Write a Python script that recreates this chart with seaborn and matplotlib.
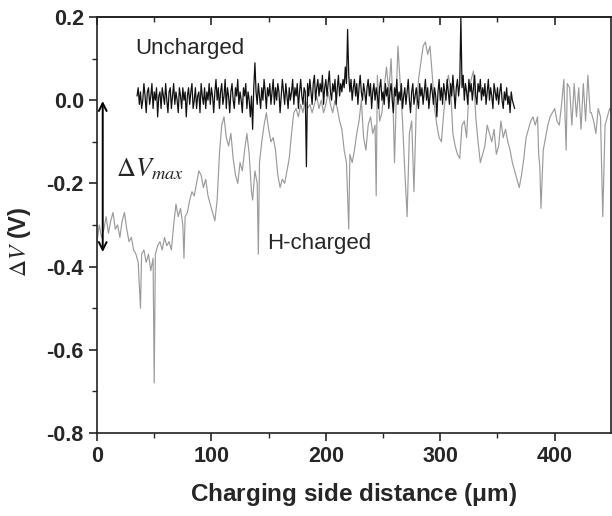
import numpy as np
import pandas as pd
import matplotlib
matplotlib.use("Agg")
import matplotlib.pyplot as plt
import seaborn as sns

# H-charged trace (grey)
x_h = [0, 2, 4, 6, 8, 10, 12, 14, 16, 18,
       20, 22, 24, 26, 28, 30, 32, 34, 36, 38,
       39, 41, 43, 45, 47, 49, 50, 51, 53, 55,
       57, 59, 61, 63, 65, 67, 69, 71, 73, 75,
       76, 77, 79, 81, 83, 85, 87, 89, 91, 93,
       95, 97, 99, 101, 103, 105, 107, 109, 111, 113,
       115, 117, 119, 121, 123, 125, 127, 129, 131, 133,
       135, 136, 138, 140, 141, 142, 144, 146, 148, 150,
       152, 154, 156, 158, 160, 162, 164, 166, 168, 170,
       172, 174, 176, 178, 180, 182, 184, 186, 188, 190,
       192, 194, 196, 198, 200, 202, 204, 206, 208, 210,
       212, 214, 216, 218, 220, 221, 223, 225, 227, 229,
       231, 233, 235, 237, 239, 241, 243, 244, 245, 247,
       249, 251, 253, 255, 257, 259, 260, 262, 263, 265,
       267, 269, 271, 273, 275, 277, 279, 281, 283, 285,
       287, 289, 291, 293, 295, 297, 299, 301, 303, 305,
       307, 309, 311, 313, 315, 317, 319, 321, 323, 325,
       327, 329, 331, 333, 335, 337, 339, 341, 343, 345,
       347, 349, 351, 353, 355, 357, 359, 361, 363, 365,
       367, 369, 371, 373, 375, 377, 379, 381, 383, 385,
       386, 387, 388, 390, 392, 394, 396, 398, 400, 402,
       404, 406, 408, 410, 411, 413, 415, 417, 419, 421,
       423, 425, 427, 429, 431, 432, 434, 436, 438, 440,
       442, 444, 446, 448, 450]
v_h = [-0.34, -0.30, -0.33, -0.31, -0.28, -0.32, -0.29, -0.27, -0.31, -0.30,
       -0.33, -0.29, -0.27, -0.31, -0.34, -0.33, -0.36, -0.37, -0.39, -0.50,
       -0.37, -0.36, -0.39, -0.37, -0.41, -0.38, -0.68, -0.37, -0.35, -0.34,
       -0.36, -0.33, -0.35, -0.34, -0.36, -0.30, -0.25, -0.28, -0.26, -0.30,
       -0.38, -0.28, -0.27, -0.24, -0.22, -0.23, -0.20, -0.17, -0.18, -0.21,
       -0.19, -0.23, -0.25, -0.27, -0.29, -0.24, -0.13, -0.06, -0.04, -0.09,
       -0.11, -0.08, -0.14, -0.18, -0.20, -0.15, -0.17, -0.12, -0.08, -0.13,
       -0.22, -0.24, -0.17, -0.20, -0.37, -0.15, -0.10, -0.06, -0.03, -0.07,
       -0.10, -0.09, -0.12, -0.18, -0.21, -0.19, -0.20, -0.17, -0.14, -0.08,
       -0.03, -0.02, -0.04, -0.01, -0.03, 0.00, -0.02, -0.01, -0.03, -0.01,
       0.01, -0.02, 0.00, -0.03, -0.01, 0.02, -0.01, -0.03, 0.00, -0.02,
       -0.05, -0.07, -0.12, -0.15, -0.31, -0.13, -0.15, -0.12, -0.08, -0.05,
       0.00, -0.09, -0.12, -0.06, -0.04, -0.08, -0.06, -0.23, 0.06, -0.05,
       -0.03, 0.03, 0.08, 0.02, 0.10, -0.04, -0.15, 0.05, 0.13, 0.04,
       -0.05, -0.17, -0.28, -0.08, -0.05, -0.22, -0.02, 0.05, 0.09, 0.13,
       0.14, 0.11, 0.13, 0.06, -0.02, -0.06, -0.09, -0.10, -0.03, 0.02,
       0.06, 0.03, -0.08, -0.11, -0.13, -0.14, -0.06, -0.05, -0.09, 0.02,
       0.05, 0.07, -0.04, -0.10, -0.15, -0.13, -0.11, -0.06, -0.08, -0.10,
       -0.07, -0.13, -0.11, -0.05, -0.09, -0.07, -0.10, -0.12, -0.15, -0.17,
       -0.19, -0.21, -0.18, -0.14, -0.09, -0.07, -0.05, -0.04, -0.06, -0.04,
       -0.13, -0.16, -0.26, -0.12, -0.09, -0.06, -0.04, -0.03, -0.02, -0.05,
       -0.06, -0.01, 0.05, -0.12, 0.04, 0.03, -0.06, 0.04, -0.04, 0.03,
       -0.07, 0.04, -0.05, 0.06, -0.03, -0.03, -0.05, -0.08, -0.02, -0.04,
       -0.28, -0.06, -0.04, -0.02, -0.03]

# Uncharged trace (black), one reading per um from 35 to 365 um
v_u = [0.01, 0.03, -0.01, 0.02, -0.02, 0.00, 0.04, 0.01, -0.03, 0.02,
       0.03, -0.01, 0.01, 0.04, -0.02, 0.02, 0.00, 0.03, -0.04, 0.01,
       0.02, -0.02, 0.03, 0.01, -0.01, 0.04, 0.00, -0.03, 0.02, 0.03,
       -0.02, 0.01, 0.04, -0.01, 0.02, 0.00, -0.03, 0.03, 0.01, -0.02,
       0.03, 0.00, 0.02, -0.04, 0.01, 0.03, -0.01, 0.02, 0.04, -0.02,
       0.00, 0.03, -0.02, 0.01, 0.02, -0.03, 0.04, 0.01, -0.01, 0.03,
       -0.02, 0.02, 0.00, 0.04, -0.01, 0.03, 0.01, -0.03, 0.02, 0.05,
       0.00, 0.03, -0.02, 0.02, 0.04, -0.01, 0.01, 0.05, -0.02, 0.03,
       0.01, -0.03, 0.02, 0.04, 0.00, -0.02, 0.03, 0.01, 0.05, -0.01,
       0.02, 0.00, -0.03, 0.03, 0.01, 0.04, -0.02, 0.02, 0.00, -0.04,
       0.01, -0.07, 0.03, 0.09, 0.02, -0.01, 0.04, 0.01, -0.02, 0.03,
       0.00, 0.05, 0.02, -0.02, 0.03, 0.01, 0.04, -0.01, 0.02, 0.05,
       -0.01, 0.03, 0.00, 0.04, 0.02, -0.03, 0.01, 0.05, 0.02, -0.01,
       0.04, 0.01, -0.02, 0.03, 0.00, 0.02, 0.05, -0.01, 0.03, 0.01,
       0.04, -0.02, 0.02, 0.05, 0.01, -0.01, 0.03, 0.02, -0.16, 0.04,
       0.01, 0.05, 0.02, -0.01, 0.04, 0.06, 0.00, 0.03, 0.05, 0.01,
       0.04, 0.02, 0.06, -0.01, 0.03, 0.05, 0.01, 0.04, 0.07, 0.02,
       0.00, 0.04, 0.02, 0.05, -0.01, 0.03, 0.06, 0.01, 0.04, 0.02,
       0.05, 0.03, 0.08, 0.04, 0.17, 0.06, 0.02, 0.05, 0.00, 0.03,
       0.05, 0.01, 0.04, -0.01, 0.03, 0.06, 0.02, 0.00, 0.04, 0.02,
       -0.01, 0.03, 0.05, 0.01, 0.04, -0.02, 0.02, 0.04, 0.00, 0.03,
       0.01, -0.02, 0.03, 0.05, 0.00, 0.02, -0.01, 0.04, 0.01, 0.03,
       -0.02, 0.02, 0.04, 0.00, -0.03, 0.03, 0.01, 0.05, -0.01, 0.02,
       0.00, 0.04, -0.02, 0.01, 0.03, -0.01, 0.02, 0.05, 0.00, -0.03,
       0.02, 0.04, -0.01, 0.01, 0.03, 0.00, -0.02, 0.04, 0.01, 0.03,
       -0.01, 0.02, 0.05, 0.00, 0.03, -0.02, 0.01, 0.04, 0.02, -0.01,
       0.03, 0.01, -0.04, 0.02, 0.05, 0.00, 0.03, -0.01, 0.04, 0.02,
       0.00, 0.05, 0.02, -0.01, 0.04, 0.01, 0.06, 0.02, -0.02, 0.03,
       0.05, 0.01, 0.04, 0.20, 0.03, 0.06, 0.00, 0.04, 0.02, -0.01,
       0.05, 0.02, 0.04, 0.00, 0.03, 0.06, 0.01, -0.01, 0.04, 0.02,
       0.05, 0.00, 0.03, 0.01, 0.04, -0.01, 0.02, 0.05, 0.00, 0.03,
       0.01, -0.02, 0.04, 0.02, 0.00, 0.03, -0.01, 0.02, 0.04, 0.00,
       -0.02, 0.02, 0.00, 0.03, -0.01, 0.01, -0.03, 0.02, 0.00, -0.01,
       -0.02]
x_u = np.linspace(35, 365, len(v_u))

x_ticks = [0, 100, 200, 300, 400]
x_minor = [50, 150, 250, 350]
y_ticks = [-0.8, -0.6, -0.4, -0.2, 0.0, 0.2]
y_minor = [-0.7, -0.5, -0.3, -0.1, 0.1]

sns.set_style("ticks")
plt.rcParams["font.family"] = ["Liberation Sans", "DejaVu Sans"]
plt.rcParams["mathtext.fontset"] = "stix"

fig = plt.figure(figsize=(6.12, 5.16), dpi=100)
ax = fig.add_axes([0.1585, 0.161, 0.8395, 0.806])

df_h = pd.DataFrame({"x": x_h, "v": v_h})
df_u = pd.DataFrame({"x": x_u, "v": v_u})
sns.lineplot(data=df_h, x="x", y="v", estimator=None, color="#9b9b9b", lw=0.85, ax=ax)
sns.lineplot(data=df_u, x="x", y="v", estimator=None, color="#111111", lw=0.9, ax=ax)

ax.set_xlim(0, 449)
ax.set_ylim(-0.8, 0.2)
ax.set_xticks(x_ticks)
ax.set_xticks(x_minor, minor=True)
ax.set_yticks(y_ticks)
ax.set_yticks(y_minor, minor=True)
ax.set_yticklabels([f"{t:.1f}" for t in y_ticks])
ax.tick_params(axis="both", which="major", labelsize=15.5, width=1.2, length=6,
               direction="out", top=False, right=False)
ax.tick_params(axis="both", which="minor", width=1.0, length=3.5, direction="out",
               top=False, right=False)
for lab in ax.get_xticklabels() + ax.get_yticklabels():
    lab.set_fontweight("bold")

# inward ticks along the top edge
sec = ax.secondary_xaxis("top")
sec.set_xticks(x_ticks)
sec.set_xticks(x_minor, minor=True)
sec.tick_params(which="major", direction="in", length=6, width=1.2, labeltop=False)
sec.tick_params(which="minor", direction="in", length=3.5, width=1.0)
sec.spines["top"].set_linewidth(1.2)

for s in ax.spines.values():
    s.set_linewidth(1.2)
    s.set_color("#222222")

ax.set_xlabel(r"Charging side distance ($\mathregular{\mu}$m)", fontsize=17.5,
              fontweight="bold", labelpad=10)
ax.set_ylabel(r"$\Delta V$ (V)", fontsize=17, fontweight="bold")
ax.yaxis.set_label_coords(-0.125, 0.46)

ax.text(33, 0.125, "Uncharged", fontsize=16, va="center", ha="left")
ax.text(149, -0.345, "H-charged", fontsize=16, va="center", ha="left")
ax.text(17, -0.165, r"$\Delta V_{max}$", fontsize=19, va="center", ha="left")
ax.annotate("", xy=(5, -0.002), xytext=(5, -0.365),
            arrowprops=dict(arrowstyle="<->", color="black", lw=1.4,
                            mutation_scale=14, shrinkA=0, shrinkB=0))

fig.savefig("out.png", dpi=100)
